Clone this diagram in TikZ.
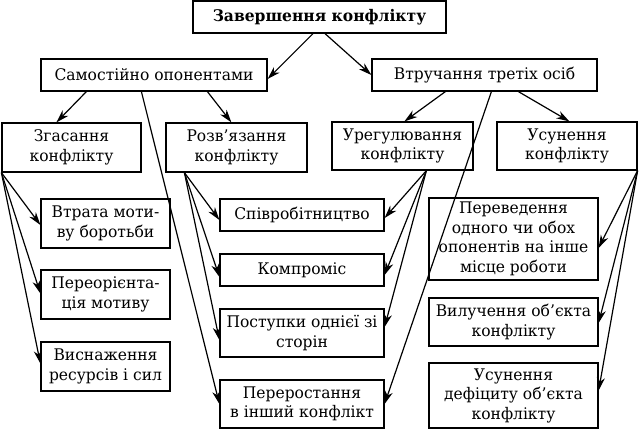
\documentclass[tikz,border=0pt]{standalone}
\usepackage{fontspec}
\setmainfont{DejaVu Serif}[FakeStretch=0.97]
\usetikzlibrary{arrows.meta,calc}
\tikzset{
  box/.style={draw, line width=1.2pt, fill=white, align=center, inner sep=0pt, font=\fontsize{16}{19.5}\selectfont},
  conn/.style={line width=1.2pt, -{Stealth[length=13pt,width=8pt,inset=4pt]}}
}
\begin{document}
\begin{tikzpicture}[x=1pt,y=-1pt]
\useasboundingbox (0,0) rectangle (639,430);
% nodes
\node[box, minimum width=253pt, minimum height=32pt, font=\fontsize{16}{19.5}\selectfont\bfseries] (top) at (319.5,17) {Завершення конфлікту};
\node[box, minimum width=226pt, minimum height=32pt] (sam) at (154,75) {Самостійно опонентами};
\node[box, minimum width=225pt, minimum height=32pt] (vtr) at (484.5,75) {Втручання третіх осіб};
\node[box, minimum width=139pt, minimum height=49pt] (zga) at (71.5,147.5) {Згасання\\конфлікту};
\node[box, minimum width=141pt, minimum height=49pt] (roz) at (236.5,147.5) {Розв’язання\\конфлікту};
\node[box, minimum width=141pt, minimum height=48pt] (ure) at (402.5,146) {Урегулювання\\конфлікту};
\node[box, minimum width=140pt, minimum height=48pt] (usu) at (567,146) {Усунення\\конфлікту};
\node[box, minimum width=129pt, minimum height=49pt] (vtrata) at (105.5,223.5) {Втрата моти-\\ву боротьби};
\node[box, minimum width=129pt, minimum height=49pt] (pereor) at (105.5,294.5) {Переорієнта-\\ція мотиву};
\node[box, minimum width=129pt, minimum height=49pt] (vysn) at (105.5,366.5) {Виснаження\\ресурсів і сил};
\node[box, minimum width=164pt, minimum height=32pt] (spiv) at (302,215) {Співробітництво};
\node[box, minimum width=164pt, minimum height=32pt] (komp) at (302,270) {Компроміс};
\node[box, minimum width=164pt, minimum height=48pt] (post) at (302,333) {Поступки однієї зі\\сторін};
\node[box, minimum width=164pt, minimum height=48pt] (perer) at (302,404) {Переростання\\в інший конфлікт};
\node[box, minimum width=169pt, minimum height=82pt] (pereved) at (513.5,239) {Переведення\\одного чи обох\\опонентів на інше\\місце роботи};
\node[box, minimum width=169pt, minimum height=48pt] (vyl) at (513.5,322) {Вилучення об’єкта\\конфлікту};
\node[box, minimum width=169pt, minimum height=65pt] (defic) at (513.5,395.5) {Усунення\\дефіциту об’єкта\\конфлікту};
% connectors
\draw[conn] ($(top.south)+(-6.5,0)$) -- ($(sam.east)+(0,4)$);
\draw[conn] ($(top.south)+(5.5,0)$) -- (vtr.west);
\draw[conn] ($(sam.south west)+(46,0)$) -- ($(zga.north west)+(55,0)$);
\draw[conn] ($(sam.south west)+(167,0)$) -- ($(roz.north west)+(66,0)$);
\draw[conn] ($(sam.south west)+(101,0)$) -- (perer.west);
\draw[conn] ($(vtr.south west)+(74,0)$) -- ($(ure.north west)+(73,0)$);
\draw[conn] ($(vtr.south west)+(147,0)$) -- ($(usu.north west)+(73,0)$);
\draw[conn] ($(vtr.south west)+(120,0)$) -- (perer.east);
% from Zgasannia
\draw[conn] (zga.south west) -- ($(vtrata.west)+(0,1.5)$);
\draw[conn] (zga.south west) -- ($(pereor.west)+(0,-1)$);
\draw[conn] (zga.south west) -- ($(vysn.west)+(0,-3)$);
% from Rozv'iazannia
\draw[conn] ($(roz.south west)+(19,0)$) -- ($(spiv.west)+(0,5)$);
\draw[conn] ($(roz.south west)+(19,0)$) -- ($(komp.west)+(0,7)$);
\draw[conn] ($(roz.south west)+(19,0)$) -- ($(post.west)+(0,7)$);
% from Uregulyuvannia
\draw[conn] ($(ure.south west)+(95,0)$) -- ($(spiv.east)+(0,3)$);
\draw[conn] ($(ure.south west)+(95,0)$) -- ($(komp.east)+(0,5)$);
\draw[conn] ($(ure.south west)+(95,0)$) -- ($(post.east)+(0,-6)$);
% from Usunennia
\draw[conn] (usu.south east) -- ($(pereved.east)+(0,9)$);
\draw[conn] (usu.south east) -- ($(vyl.east)+(0,1)$);
\draw[conn] (usu.south east) -- ($(defic.east)+(0,-5)$);
\end{tikzpicture}
\end{document}
